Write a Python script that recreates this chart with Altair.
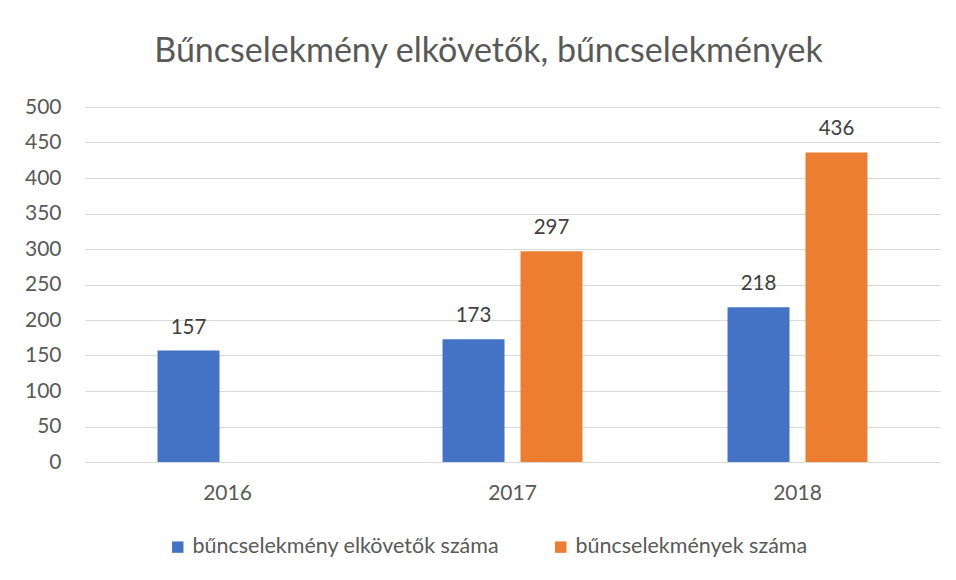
import altair as alt
import pandas as pd

years = ["2016", "2017", "2018", "2017", "2018"]
series = ["bűncselekmény elkövetők száma", "bűncselekmény elkövetők száma", "bűncselekmény elkövetők száma",
          "bűncselekmények száma", "bűncselekmények száma"]
values = [157, 173, 218, 297, 436]
series_order = ["bűncselekmény elkövetők száma", "bűncselekmények száma"]
colors = ["#4472C4", "#ED7D31"]
y_ticks = [0, 50, 100, 150, 200, 250, 300, 350, 400, 450, 500]

df = pd.DataFrame({"year": years, "series": series, "value": values})

FONT = "Lato"
GRAY = "#595959"

x = alt.X("year:N", title=None,
          scale=alt.Scale(paddingInner=0.509, paddingOuter=0.2545),
          axis=alt.Axis(labelAngle=0, labelFontSize=21, labelColor=GRAY, labelFont=FONT,
                        ticks=False, labelPadding=20, domainColor="#d9d9d9", grid=False))
xo = alt.XOffset("series:N", sort=series_order,
                 scale=alt.Scale(paddingInner=0.205, paddingOuter=0))
y = alt.Y("value:Q", title=None,
          scale=alt.Scale(domain=[0, 500]),
          axis=alt.Axis(values=y_ticks, labelFontSize=21, labelColor=GRAY,
                        labelFont=FONT, ticks=False, domain=False, labelPadding=24,
                        labelOverlap=False, gridColor="#d9d9d9"))

base = alt.Chart(df).encode(x=x, xOffset=xo, y=y)

bars = base.mark_bar().encode(
    color=alt.Color("series:N", sort=series_order,
                    scale=alt.Scale(domain=series_order, range=colors),
                    legend=alt.Legend(title=None, orient="none", direction="horizontal",
                                      legendX=82, legendY=429, symbolType="square",
                                      symbolSize=130, labelFontSize=21.5, labelFont=FONT,
                                      labelColor=GRAY, columnPadding=50, labelLimit=0,
                                      symbolStrokeWidth=0))
)

labels = base.mark_text(baseline="bottom", dy=-13, fontSize=20.5, font=FONT, color="#404040").encode(
    text="value:Q",
    detail="series:N",
)

chart = alt.layer(bars, labels).properties(
    width=855, height=355,
    autosize="none",
    padding={"left": 77, "top": 99, "right": 8, "bottom": 110},
    title=alt.TitleParams("Bűncselekmény elkövetők, bűncselekmények", fontSize=34, font=FONT,
                          fontWeight="normal", color=GRAY, offset=27, dx=-24),
    background="white",
).configure_view(stroke=None)

chart.save("out.html", embed_options={"renderer": "svg", "actions": False})
